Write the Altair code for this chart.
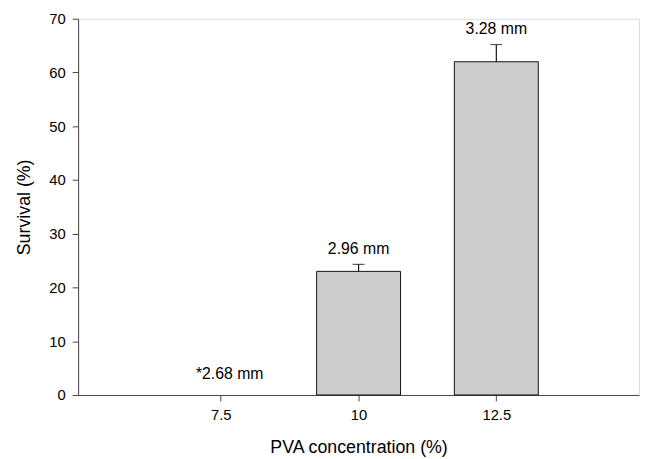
import altair as alt
import pandas as pd

conc = [7.5, 10, 12.5]
survival = [0.0, 23.0, 62.0]
sem = [0.0, 1.3, 3.2]
labels = ["*2.68 mm", "2.96 mm", "3.28 mm"]

df = pd.DataFrame({"conc": conc, "survival": survival, "sem": sem, "label": labels})
df["upper"] = df["survival"] + df["sem"]

FONT = "Liberation Sans"
AX = "#444444"

x_enc = alt.X(
    "conc:Q",
    scale=alt.Scale(domain=[5, 15], nice=False, zero=False),
    axis=alt.Axis(
        values=[7.5, 10, 12.5], format=".1~f", title="PVA concentration (%)",
        grid=False, tickSize=6, labelPadding=7, titlePadding=16,
        labelFontSize=15, titleFontSize=18, titleFontWeight="normal",
        labelFont=FONT, titleFont=FONT, labelColor="black", titleColor="black",
        domainColor=AX, tickColor=AX,
    ),
)
y_scale = alt.Scale(domain=[0, 70], nice=False)
y_axis = alt.Axis(
    values=[0, 10, 20, 30, 40, 50, 60, 70], title="Survival (%)",
    grid=False, tickSize=6, labelPadding=7, titlePadding=16,
    labelFontSize=15, titleFontSize=18, titleFontWeight="normal",
    labelFont=FONT, titleFont=FONT, labelColor="black", titleColor="black",
    domainColor=AX, tickColor=AX,
)

base = alt.Chart(df)

bars = base.transform_filter("datum.survival > 0").mark_bar(
    size=85, color="#cccccc", stroke="#111111", strokeWidth=1
).encode(
    x=x_enc,
    y=alt.Y("survival:Q", scale=y_scale, axis=y_axis),
)

err_df = base.transform_filter("datum.sem > 0")
rules = err_df.mark_rule(color="#111111", strokeWidth=1.2).encode(
    x="conc:Q", y="survival:Q", y2="upper:Q"
)
caps = err_df.mark_tick(orient="horizontal", size=12, thickness=1.2, color="#111111").encode(
    x="conc:Q", y="upper:Q"
)
text = base.transform_filter("datum.survival > 0").mark_text(
    baseline="bottom", dy=-8, fontSize=16, font=FONT, color="black"
).encode(x="conc:Q", y="upper:Q", text="label:N")
text0 = base.transform_filter("datum.survival == 0").mark_text(
    baseline="bottom", dy=-13, dx=9, fontSize=16, font=FONT, color="black"
).encode(x="conc:Q", y="upper:Q", text="label:N")

chart = (
    alt.layer(bars, rules, caps, text, text0)
    .properties(
        width=568, height=381,
        autosize=alt.AutoSizeParams(type="none"),
        padding={"left": 71, "top": 8, "right": 2, "bottom": 66},
    )
    .configure_view(stroke="#333333", strokeWidth=1.2)
    .configure(background="white")
)

chart.save("out.html", embed_options={"renderer": "svg", "actions": False})
